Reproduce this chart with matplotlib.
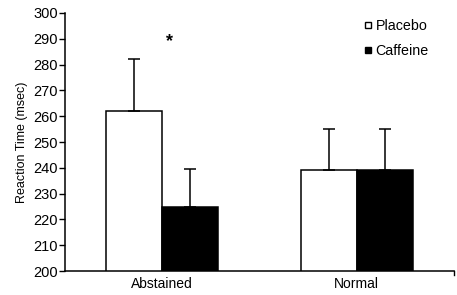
import numpy as np
import matplotlib
matplotlib.use("Agg")
import matplotlib.pyplot as plt
from matplotlib.lines import Line2D

plt.rcParams['font.family'] = ['Liberation Sans', 'DejaVu Sans']

# data
groups = ["Abstained", "Normal"]
placebo = [262, 239]
placebo_err = [20, 16]
caffeine = [225, 239]
caffeine_err = [14.5, 16]
yticks = list(range(200, 301, 10))

fig = plt.figure(figsize=(4.57, 2.95), dpi=100)
ax = fig.add_axes([0.142, 0.081, 0.851, 0.875])

x = np.arange(len(groups))
w = 0.288
ax.bar(x - w/2, placebo, w, color='white', edgecolor='black', linewidth=1.1)
ax.bar(x + w/2, caffeine, w, color='black', edgecolor='black', linewidth=1.1)
ax.errorbar(x - w/2, placebo, yerr=[np.zeros(2), placebo_err], fmt='none',
            ecolor='black', elinewidth=1.1, capsize=4, capthick=1.1)
ax.errorbar(x + w/2, caffeine, yerr=[np.zeros(2), caffeine_err], fmt='none',
            ecolor='black', elinewidth=1.1, capsize=4, capthick=1.1)

# significance marker
ax.text(0.04, 289, "*", ha='center', va='center', fontsize=13, fontweight='bold')

ax.set_ylim(200, 300)
ax.set_xlim(-0.5, 1.5)
ax.set_yticks(yticks)
ax.set_xticks(x)
ax.set_xticklabels(groups)
ax.tick_params(axis='x', length=0, labelsize=10, pad=4)
ax.tick_params(axis='y', direction='out', length=4, width=1, labelsize=10.5, pad=1)
ax.set_ylabel("Reaction Time (msec)", fontsize=9, labelpad=4)
ax.spines['top'].set_visible(False)
ax.spines['right'].set_visible(False)
ax.spines['left'].set_linewidth(1.1)
ax.spines['bottom'].set_linewidth(1.1)
# little tick at the right end of the x axis
ax.plot([1.5, 1.5], [200, 198.5], color='black', lw=1, clip_on=False)

handles = [
    Line2D([], [], marker='s', ls='none', mfc='white', mec='black', ms=5),
    Line2D([], [], marker='s', ls='none', mfc='black', mec='black', ms=5),
]
ax.legend(handles, ["Placebo", "Caffeine"], loc='upper left', bbox_to_anchor=(0.755, 1.0),
          frameon=False, fontsize=10.3, handlelength=0.5, handletextpad=0.3,
          labelspacing=0.8, borderaxespad=0)

fig.savefig("out.png", dpi=100)
